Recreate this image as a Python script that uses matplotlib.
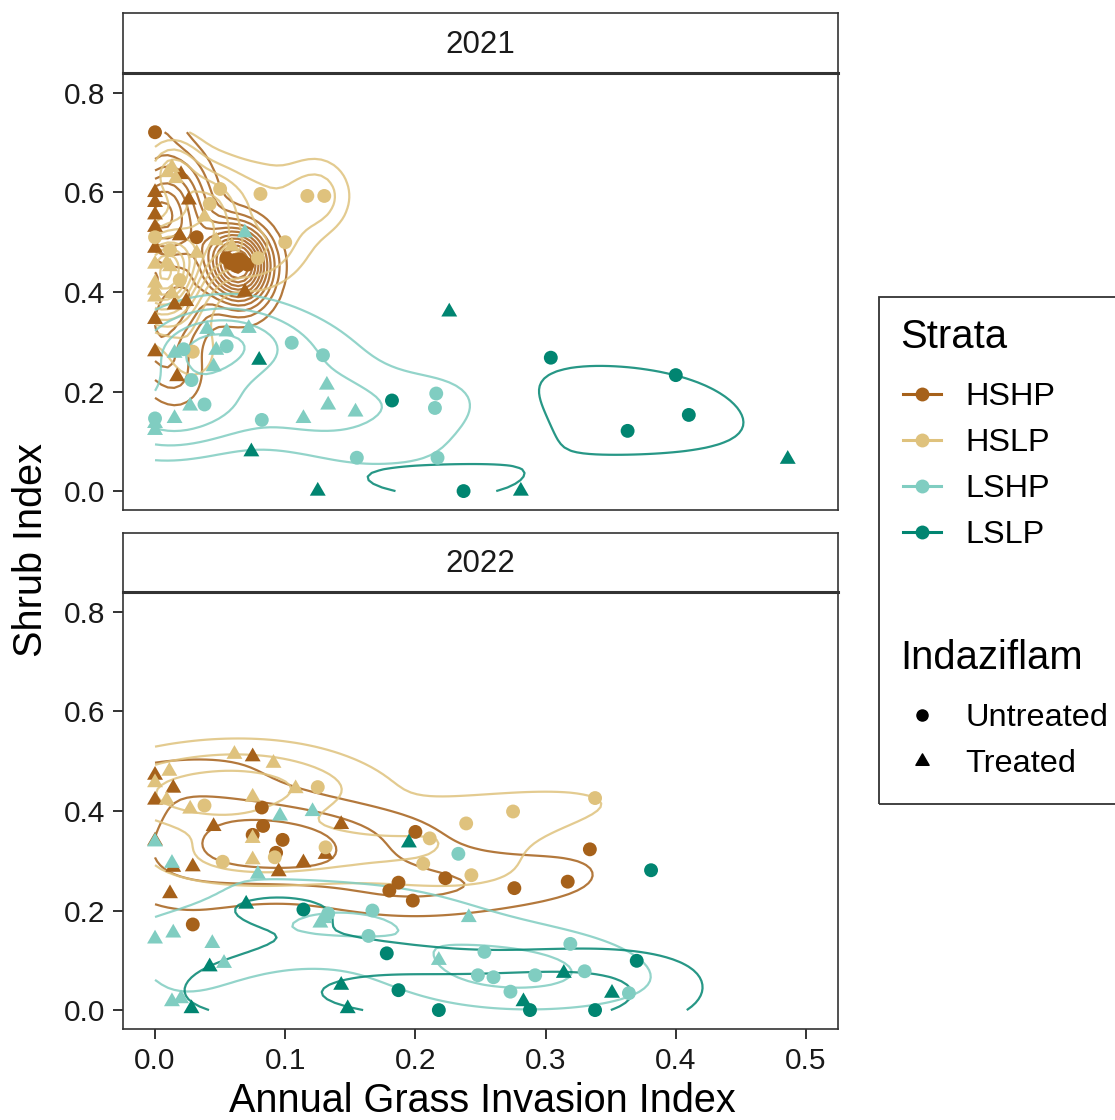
import numpy as np
import matplotlib
matplotlib.use("Agg")
import matplotlib.pyplot as plt
from matplotlib.lines import Line2D
from matplotlib.patches import Rectangle
from matplotlib.path import Path

plt.rcParams['font.family'] = ['Liberation Sans', 'DejaVu Sans']

# ---------------- data ----------------
strata_levels = ["HSHP", "HSLP", "LSHP", "LSLP"]
strata_colors = ["#A6611A", "#DFC27D", "#80CDC1", "#018571"]
treat_levels = ["Untreated", "Treated"]
years = ["2021", "2022"]

# 2021
hshp_u_21_x = [0.000, 0.032, 0.055, 0.058, 0.061, 0.063, 0.065, 0.068, 0.071]
hshp_u_21_y = [0.721, 0.510, 0.468, 0.458, 0.464, 0.452, 0.466, 0.460, 0.455]
hshp_t_21_x = [0.0, 0.0, 0.0, 0.0, 0.0, 0.0, 0.0, 0.020, 0.026, 0.019, 0.015, 0.024, 0.017, 0.069]
hshp_t_21_y = [0.600, 0.580, 0.555, 0.530, 0.488, 0.345, 0.280, 0.636, 0.585, 0.513, 0.374, 0.381, 0.230, 0.400]
hslp_u_21_x = [0.050, 0.081, 0.117, 0.130, 0.042, 0.100, 0.079, 0.000, 0.019, 0.029, 0.0115]
hslp_u_21_y = [0.607, 0.597, 0.593, 0.593, 0.577, 0.500, 0.468, 0.510, 0.424, 0.280, 0.484]
hslp_t_21_x = [0.013, 0.010, 0.016, 0.032, 0.047, 0.059, 0.038, 0.0, 0.0, 0.0, 0.0, 0.0115, 0.013, 0.009]
hslp_t_21_y = [0.650, 0.640, 0.628, 0.478, 0.503, 0.492, 0.551, 0.456, 0.418, 0.404, 0.390, 0.451, 0.397, 0.458]
lshp_u_21_x = [0.105, 0.129, 0.055, 0.022, 0.028, 0.038, 0.082, 0.000, 0.155, 0.217, 0.216, 0.215]
lshp_u_21_y = [0.298, 0.273, 0.291, 0.285, 0.223, 0.174, 0.143, 0.146, 0.067, 0.067, 0.196, 0.167]
lshp_t_21_x = [0.069, 0.040, 0.055, 0.072, 0.047, 0.045, 0.015, 0.027, 0.015, 0.0, 0.0, 0.132, 0.133, 0.114, 0.154]
lshp_t_21_y = [0.519, 0.325, 0.320, 0.327, 0.283, 0.250, 0.277, 0.171, 0.146, 0.136, 0.122, 0.213, 0.173, 0.146, 0.159]
lslp_u_21_x = [0.182, 0.237, 0.304, 0.400, 0.410, 0.363]
lslp_u_21_y = [0.182, 0.000, 0.268, 0.233, 0.153, 0.121]
lslp_t_21_x = [0.226, 0.080, 0.074, 0.125, 0.281, 0.486]
lslp_t_21_y = [0.360, 0.263, 0.079, 0.000, 0.000, 0.064]

# 2022
hshp_u_22_x = [0.029, 0.082, 0.083, 0.075, 0.098, 0.093, 0.200, 0.223, 0.187, 0.180, 0.198, 0.317, 0.334, 0.276]
hshp_u_22_y = [0.172, 0.407, 0.370, 0.352, 0.342, 0.316, 0.358, 0.265, 0.256, 0.240, 0.220, 0.258, 0.323, 0.245]
hshp_t_22_x = [0.0, 0.014, 0.0, 0.075, 0.045, 0.143, 0.0, 0.014, 0.029, 0.0115, 0.114, 0.095, 0.131]
hshp_t_22_y = [0.472, 0.446, 0.422, 0.509, 0.369, 0.373, 0.340, 0.287, 0.288, 0.234, 0.296, 0.278, 0.313]
hslp_u_22_x = [0.038, 0.125, 0.131, 0.052, 0.092, 0.211, 0.206, 0.239, 0.243, 0.338, 0.275]
hslp_u_22_y = [0.411, 0.448, 0.327, 0.298, 0.307, 0.345, 0.294, 0.375, 0.271, 0.426, 0.399]
hslp_t_22_x = [0.011, 0.0, 0.009, 0.027, 0.061, 0.091, 0.108, 0.075, 0.075, 0.075]
hslp_t_22_y = [0.480, 0.457, 0.422, 0.404, 0.514, 0.496, 0.445, 0.428, 0.345, 0.302]
lshp_u_22_x = [0.167, 0.164, 0.133, 0.233, 0.319, 0.253, 0.248, 0.260, 0.292, 0.330, 0.273, 0.364]
lshp_u_22_y = [0.200, 0.149, 0.194, 0.314, 0.133, 0.117, 0.070, 0.066, 0.070, 0.078, 0.037, 0.034]
lshp_t_22_x = [0.0, 0.013, 0.096, 0.121, 0.079, 0.130, 0.127, 0.0, 0.014, 0.044, 0.053, 0.218, 0.241, 0.013, 0.020]
lshp_t_22_y = [0.338, 0.295, 0.390, 0.399, 0.273, 0.184, 0.175, 0.143, 0.155, 0.134, 0.094, 0.100, 0.186, 0.017, 0.023]
lslp_u_22_x = [0.114, 0.178, 0.187, 0.218, 0.288, 0.338, 0.370, 0.381]
lslp_u_22_y = [0.202, 0.114, 0.040, 0.000, 0.000, 0.000, 0.099, 0.281]
lslp_t_22_x = [0.070, 0.042, 0.028, 0.143, 0.148, 0.195, 0.314, 0.351, 0.283]
lslp_t_22_y = [0.213, 0.087, 0.003, 0.050, 0.003, 0.336, 0.074, 0.034, 0.017]

groups = {
    ("2021", "HSHP", "Untreated"): (hshp_u_21_x, hshp_u_21_y),
    ("2021", "HSHP", "Treated"): (hshp_t_21_x, hshp_t_21_y),
    ("2021", "HSLP", "Untreated"): (hslp_u_21_x, hslp_u_21_y),
    ("2021", "HSLP", "Treated"): (hslp_t_21_x, hslp_t_21_y),
    ("2021", "LSHP", "Untreated"): (lshp_u_21_x, lshp_u_21_y),
    ("2021", "LSHP", "Treated"): (lshp_t_21_x, lshp_t_21_y),
    ("2021", "LSLP", "Untreated"): (lslp_u_21_x, lslp_u_21_y),
    ("2021", "LSLP", "Treated"): (lslp_t_21_x, lslp_t_21_y),
    ("2022", "HSHP", "Untreated"): (hshp_u_22_x, hshp_u_22_y),
    ("2022", "HSHP", "Treated"): (hshp_t_22_x, hshp_t_22_y),
    ("2022", "HSLP", "Untreated"): (hslp_u_22_x, hslp_u_22_y),
    ("2022", "HSLP", "Treated"): (hslp_t_22_x, hslp_t_22_y),
    ("2022", "LSHP", "Untreated"): (lshp_u_22_x, lshp_u_22_y),
    ("2022", "LSHP", "Treated"): (lshp_t_22_x, lshp_t_22_y),
    ("2022", "LSLP", "Untreated"): (lslp_u_22_x, lslp_u_22_y),
    ("2022", "LSLP", "Treated"): (lslp_t_22_x, lslp_t_22_y),
}

x_ticks = [0.0, 0.1, 0.2, 0.3, 0.4, 0.5]
y_ticks = [0.0, 0.2, 0.4, 0.6, 0.8]

# ---------------- density (MASS::kde2d style, one per Strata and panel) ----------------
def bw_nrd(v):
    v = np.asarray(v, float)
    q1, q3 = np.percentile(v, [25, 75])
    h = (q3 - q1) / 1.34
    return 4 * 1.06 * min(np.std(v, ddof=1), h) * len(v) ** (-0.2)

def kde2d(x, y, gx, gy):
    x = np.asarray(x, float); y = np.asarray(y, float)
    hx = bw_nrd(x) / 4.0
    hy = bw_nrd(y) / 4.0
    ax_ = (gx[:, None] - x[None, :]) / hx
    ay_ = (gy[:, None] - y[None, :]) / hy
    phi = lambda u: np.exp(-0.5 * u ** 2) / np.sqrt(2 * np.pi)
    return phi(ax_) @ phi(ay_).T / (len(x) * hx * hy)

def r_pretty(lo, hi, n=10):
    cell = (hi - lo) / n
    U = 10 ** np.floor(np.log10(cell))
    h = 1.5
    h5 = 0.5 + 1.5 * h
    unit = U
    if 2 * U - cell < h * (cell - unit):
        unit = 2 * U
        if 5 * U - cell < h5 * (cell - unit):
            unit = 5 * U
            if 10 * U - cell < h * (cell - unit):
                unit = 10 * U
    ns = np.floor(lo / unit + 1e-7)
    nu = np.ceil(hi / unit - 1e-7)
    return np.arange(ns, nu + 1) * unit

all_x = np.concatenate([np.asarray(v[0], float) for v in groups.values()])
all_y = np.concatenate([np.asarray(v[1], float) for v in groups.values()])
gx = np.linspace(all_x.min(), all_x.max(), 100)
gy = np.linspace(all_y.min(), all_y.max(), 100)

dens = {}
for yr in years:
    for s in strata_levels:
        xs = np.concatenate([groups[(yr, s, t)][0] for t in treat_levels])
        ys = np.concatenate([groups[(yr, s, t)][1] for t in treat_levels])
        dens[(yr, s)] = kde2d(xs, ys, gx, gy)
zmin = min(z.min() for z in dens.values())
zmax = max(z.max() for z in dens.values())
levels = r_pretty(zmin, zmax, 10)
levels = levels[levels > 0]

# ---------------- figure ----------------
W, H = 1115, 1120
fig = plt.figure(figsize=(W / 100, H / 100), dpi=100)

def fx(px):
    return px / W

def fy(py):
    return 1 - py / H

tri = Path([(-0.5, -0.2887), (0.5, -0.2887), (0.0, 0.5774), (-0.5, -0.2887)],
           [Path.MOVETO, Path.LINETO, Path.LINETO, Path.CLOSEPOLY])
markers = {"Untreated": "o", "Treated": tri}
sizes = {"Untreated": 100, "Treated": 175}
edge = "#333333"
tick_fs = 21.5

panel_tops = [73, 592]
panel_bottoms = [510, 1029]
strip_tops = [13, 533]
left_px, right_px = 123, 838

for i, yr in enumerate(years):
    ax = fig.add_axes([fx(left_px), fy(panel_bottoms[i]), fx(right_px - left_px),
                       (panel_bottoms[i] - panel_tops[i]) / H])
    ax.set_xlim(-0.0246, 0.5246)
    ax.set_ylim(-0.038, 0.840)
    for s, col in zip(strata_levels, strata_colors):
        z = dens[(yr, s)]
        if z.max() > levels[0]:
            ax.contour(gx, gy, z.T, levels=levels, colors=[col], linewidths=1.6,
                       alpha=0.85, zorder=2)
    for s, col in zip(strata_levels, strata_colors):
        for t in treat_levels:
            xs, ys = groups[(yr, s, t)]
            ax.scatter(xs, ys, s=sizes[t], marker=markers[t], color=col,
                       edgecolors="none", zorder=3)
    ax.set_xticks(x_ticks)
    ax.set_yticks(y_ticks)
    ax.set_yticklabels([f"{v:.1f}" for v in y_ticks])
    if i == 1:
        ax.set_xticklabels([f"{v:.1f}" for v in x_ticks])
        ax.tick_params(axis="x", length=7, width=1.4, color=edge, labelsize=tick_fs,
                       labelcolor="#1A1A1A", pad=6)
    else:
        ax.tick_params(axis="x", length=0, labelbottom=False)
    ax.tick_params(axis="y", length=7, width=1.4, color=edge, labelsize=tick_fs,
                   labelcolor="#1A1A1A", pad=6)
    for sp in ax.spines.values():
        sp.set_color(edge)
        sp.set_linewidth(1.2)
    # strip
    sax = fig.add_axes([fx(left_px), fy(panel_tops[i]), fx(right_px - left_px),
                        (panel_tops[i] - strip_tops[i]) / H])
    sax.set_xticks([]); sax.set_yticks([])
    for sp in sax.spines.values():
        sp.set_color(edge)
        sp.set_linewidth(1.2)
    sax.spines["bottom"].set_linewidth(2.2)
    sax.text(0.5, 0.47, yr, ha="center", va="center", fontsize=22.5,
             color="#1A1A1A", transform=sax.transAxes)

fig.text(fx(31), fy(550), "Shrub Index", rotation=90, ha="center", va="center",
         fontsize=28.5, color="black")
fig.text(fx(482), fy(1101), "Annual Grass Invasion Index", ha="center",
         va="center", fontsize=28.5, color="black")

# ---------------- legend ----------------
frame = Rectangle((fx(879), fy(804)), 1.0, (804 - 297) / H, transform=fig.transFigure,
                  fill=False, edgecolor="#333333", linewidth=1.3, clip_on=False)
fig.patches.append(frame)

leg_fs = 23.4
fig.text(fx(900), fy(337), "Strata", ha="left", va="center", fontsize=28.8)
fig.text(fx(900), fy(658), "Indaziflam", ha="left", va="center", fontsize=28.8)

h1 = [Line2D([0], [0], color=c, lw=2.2, marker="o", markersize=10,
             markeredgecolor="none", markerfacecolor=c) for c in strata_colors]
fig.legend(h1, strata_levels, loc="center left", bbox_to_anchor=(fx(903), fy(466)),
           frameon=False, fontsize=leg_fs, handlelength=1.17, handletextpad=0.74,
           labelspacing=0.49, borderpad=0, borderaxespad=0)
h2 = [Line2D([0], [0], lw=0, marker="o", markersize=8, color="black"),
      Line2D([0], [0], lw=0, marker=tri, markersize=11, color="black")]
fig.legend(h2, treat_levels, loc="center left", bbox_to_anchor=(fx(903), fy(741)),
           frameon=False, fontsize=leg_fs, handlelength=1.17, handletextpad=0.74,
           labelspacing=0.49, borderpad=0, borderaxespad=0)

fig.savefig("out.png", dpi=100)
